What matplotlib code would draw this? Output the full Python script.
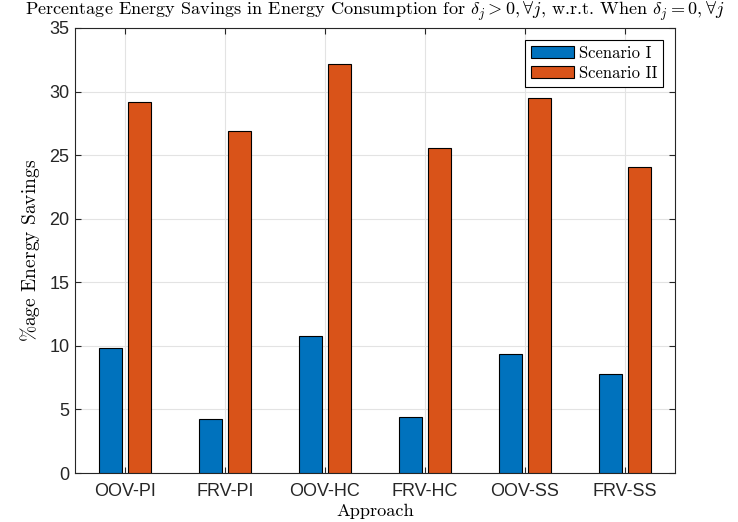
import matplotlib as mpl
mpl.use('Agg')
import numpy as np
import matplotlib.pyplot as plt

approaches = ['OOV-PI', 'FRV-PI', 'OOV-HC', 'FRV-HC', 'OOV-SS', 'FRV-SS']
scenario1 = [9.8, 4.22, 10.8, 4.41, 9.34, 7.81]
scenario2 = [29.2, 26.93, 32.2, 25.6, 29.5, 24.04]
yticks = [0, 5, 10, 15, 20, 25, 30, 35]

plt.rcParams['mathtext.fontset'] = 'cm'

fig = plt.figure(figsize=(7.38, 5.22), dpi=100)
ax = fig.add_axes([75/738., 49/522., 600/738., 445/522.])

x = np.arange(1, len(approaches)+1)
w = 0.23
ax.bar(x-0.145, scenario1, w, color='#0072BD', edgecolor='black', linewidth=0.8, label='Scenario I', zorder=3)
ax.bar(x+0.145, scenario2, w, color='#D95319', edgecolor='black', linewidth=0.8, label='Scenario II', zorder=3)

ax.set_xlim(0.5, 6.5)
ax.set_ylim(0, 35)
ax.set_xticks(x)
ax.set_xticklabels(approaches, family='Liberation Sans', fontsize=13)
ax.set_yticks(yticks)
ax.set_yticklabels([str(v) for v in yticks], family='Liberation Sans', fontsize=13)
ax.tick_params(direction='in', top=True, right=True, length=4, color='#262626', width=0.8,
               labelcolor='#262626')
ax.tick_params(axis='x', pad=7)
ax.tick_params(axis='y', pad=4)
ax.grid(True, color='#e3e3e3', linewidth=0.8, zorder=0)
ax.set_axisbelow(True)
for s in ax.spines.values():
    s.set_color('#262626')
    s.set_linewidth(0.8)

ax.set_xlabel('Approach', fontdict={'family': 'cmr10', 'size': 13.2}, labelpad=3)
ax.set_ylabel(r'$\%$age Energy Savings', fontdict={'family': 'cmr10', 'size': 14}, labelpad=5)
ax.set_title(r'Percentage Energy Savings in Energy Consumption for $\delta_j > 0, \forall j$, w.r.t. When $\delta_j = 0, \forall j$',
             fontdict={'family': 'cmr10', 'size': 13.1}, pad=9.5)

leg = ax.legend(loc='upper right', prop={'family': 'cmr10', 'size': 12}, fancybox=False,
                edgecolor='black', framealpha=1, borderaxespad=0.7, handlelength=2.6,
                handletextpad=0.3, borderpad=0.35, labelspacing=0.3)
leg.get_frame().set_linewidth(0.8)

plt.savefig('out.png', dpi=100)
plt.close()
